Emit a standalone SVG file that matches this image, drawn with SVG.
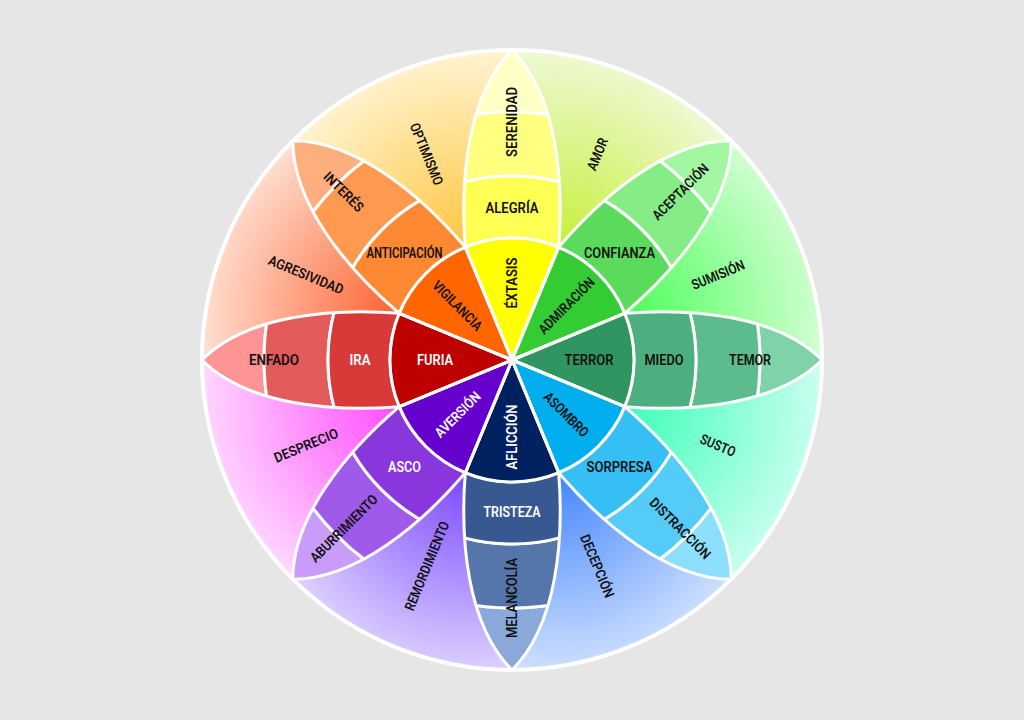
<svg xmlns="http://www.w3.org/2000/svg" xmlns:xlink="http://www.w3.org/1999/xlink" width="1024" height="720" viewBox="0 0 1024 720">
<defs>
<style>
text { font-family: Roboto, "DejaVu Sans", "Liberation Sans", sans-serif; font-size: 14px; font-weight: 600; text-anchor: middle; dominant-baseline: central; fill: #111; }
text.w { fill: #fff; }
.seg { stroke: #fff; stroke-width: 3; stroke-linejoin: round; }
.outline { fill: none; stroke: #fff; stroke-width: 3; stroke-linejoin: round; }
.dyad { stroke: none; }
</style>
<clipPath id="pc"><path d="M0,-310 C45,-265 52,-180 46.7,-112.7 L0,0 L-46.7,-112.7 C-52,-180 -45,-265 0,-310 Z"/></clipPath>
<path id="wedge" d="M0,0 L46.7,-112.7 A122,122 0 0 0 -46.7,-112.7 Z"/>
<path id="r2" d="M-61,-105.65 A122,122 0 0 1 61,-105.65 L92,-159.35 A184,184 0 0 0 -92,-159.35 Z"/>
<path id="r3" d="M-92,-159.35 A184,184 0 0 1 92,-159.35 L124,-214.77 A248,248 0 0 0 -124,-214.77 Z"/>
<path id="tip" d="M-124,-214.77 A248,248 0 0 1 124,-214.77 L160,-277.1 A320,320 0 0 0 -160,-277.1 Z"/>
<path id="petal" d="M0,-310 C45,-265 52,-180 46.7,-112.7 L0,0 L-46.7,-112.7 C-52,-180 -45,-265 0,-310 Z"/>
<radialGradient id="gAmor" gradientUnits="userSpaceOnUse" cx="558.7" cy="247.3" r="200"><stop offset="0" stop-color="#c6ef3a"/><stop offset="1" stop-color="#eff9d6"/></radialGradient>
<radialGradient id="gSumision" gradientUnits="userSpaceOnUse" cx="624.7" cy="313.3" r="200"><stop offset="0" stop-color="#4dff5a"/><stop offset="1" stop-color="#d2ffd2"/></radialGradient>
<radialGradient id="gSusto" gradientUnits="userSpaceOnUse" cx="624.7" cy="406.7" r="200"><stop offset="0" stop-color="#3dffb8"/><stop offset="1" stop-color="#cbfff0"/></radialGradient>
<radialGradient id="gDecepcion" gradientUnits="userSpaceOnUse" cx="558.7" cy="472.7" r="200"><stop offset="0" stop-color="#4285ff"/><stop offset="1" stop-color="#cfe0ff"/></radialGradient>
<radialGradient id="gRemordimiento" gradientUnits="userSpaceOnUse" cx="465.3" cy="472.7" r="200"><stop offset="0" stop-color="#7a48ff"/><stop offset="1" stop-color="#ddd0ff"/></radialGradient>
<radialGradient id="gDesprecio" gradientUnits="userSpaceOnUse" cx="399.3" cy="406.7" r="200"><stop offset="0" stop-color="#ff4dff"/><stop offset="1" stop-color="#ffd8ff"/></radialGradient>
<radialGradient id="gAgresividad" gradientUnits="userSpaceOnUse" cx="399.3" cy="313.3" r="200"><stop offset="0" stop-color="#ff6230"/><stop offset="1" stop-color="#ffe0d2"/></radialGradient>
<radialGradient id="gOptimismo" gradientUnits="userSpaceOnUse" cx="465.3" cy="247.3" r="200"><stop offset="0" stop-color="#ffc640"/><stop offset="1" stop-color="#fff4d2"/></radialGradient>
</defs>

<rect x="0" y="0" width="1024" height="720" fill="#e6e6e6"/>

<g id="dyads">
  <g id="amor"><path class="dyad" fill="url(#gAmor)" d="M512,360 L512,50 A310,310 0 0 1 731.2,140.8 Z"/><text transform="translate(597.3 154) rotate(-67.5)" textLength="34" lengthAdjust="spacingAndGlyphs">AMOR</text></g>
  <g id="sumision"><path class="dyad" fill="url(#gSumision)" d="M512,360 L731.2,140.8 A310,310 0 0 1 822,360 Z"/><text transform="translate(718 274.7) rotate(-22.5)" textLength="56" lengthAdjust="spacingAndGlyphs">SUMISIÓN</text></g>
  <g id="susto"><path class="dyad" fill="url(#gSusto)" d="M512,360 L822,360 A310,310 0 0 1 731.2,579.2 Z"/><text transform="translate(718 445.3) rotate(22.5)" textLength="37" lengthAdjust="spacingAndGlyphs">SUSTO</text></g>
  <g id="decepcion"><path class="dyad" fill="url(#gDecepcion)" d="M512,360 L731.2,579.2 A310,310 0 0 1 512,670 Z"/><text transform="translate(597.3 566) rotate(67.5)" textLength="67" lengthAdjust="spacingAndGlyphs">DECEPCIÓN</text></g>
  <g id="remordimiento"><path class="dyad" fill="url(#gRemordimiento)" d="M512,360 L512,670 A310,310 0 0 1 292.8,579.2 Z"/><text transform="translate(426.7 566) rotate(-67.5)" textLength="95" lengthAdjust="spacingAndGlyphs">REMORDIMIENTO</text></g>
  <g id="desprecio"><path class="dyad" fill="url(#gDesprecio)" d="M512,360 L292.8,579.2 A310,310 0 0 1 202,360 Z"/><text transform="translate(306 445.3) rotate(-22.5)" textLength="68" lengthAdjust="spacingAndGlyphs">DESPRECIO</text></g>
  <g id="agresividad"><path class="dyad" fill="url(#gAgresividad)" d="M512,360 L202,360 A310,310 0 0 1 292.8,140.8 Z"/><text transform="translate(306 274.7) rotate(22.5)" textLength="80" lengthAdjust="spacingAndGlyphs">AGRESIVIDAD</text></g>
  <g id="optimismo"><path class="dyad" fill="url(#gOptimismo)" d="M512,360 L292.8,140.8 A310,310 0 0 1 512,50 Z"/><text transform="translate(426.7 154) rotate(67.5)" textLength="66" lengthAdjust="spacingAndGlyphs">OPTIMISMO</text></g>
</g>

<g id="petal-alegria" transform="translate(512 360) rotate(0)">
  <g id="serenidad"><use href="#tip" class="seg" fill="#ffffc6" clip-path="url(#pc)"/><use href="#r3" class="seg" fill="#ffff80" clip-path="url(#pc)"/><text transform="translate(0 -238) rotate(-90)" textLength="70" lengthAdjust="spacingAndGlyphs">SERENIDAD</text></g>
  <g id="alegria"><use href="#r2" class="seg" fill="#ffff54" clip-path="url(#pc)"/><text transform="translate(0 -152) rotate(0)" textLength="53" lengthAdjust="spacingAndGlyphs">ALEGRÍA</text></g>
  <g id="extasis"><use href="#wedge" class="seg" fill="#ffff00"/><text transform="translate(0 -77) rotate(-90)" textLength="51" lengthAdjust="spacingAndGlyphs">ÉXTASIS</text></g>
  <use href="#petal" class="outline"/>
</g>

<g id="petal-confianza" transform="translate(512 360) rotate(45)">
  <g id="aceptacion"><use href="#tip" class="seg" fill="#a3f7a3" clip-path="url(#pc)"/><use href="#r3" class="seg" fill="#86ec86" clip-path="url(#pc)"/><text transform="translate(0 -238) rotate(-90)" textLength="73" lengthAdjust="spacingAndGlyphs">ACEPTACIÓN</text></g>
  <g id="confianza"><use href="#r2" class="seg" fill="#5bdb5b" clip-path="url(#pc)"/><text transform="translate(0 -152) rotate(-45)" textLength="71" lengthAdjust="spacingAndGlyphs">CONFIANZA</text></g>
  <g id="admiracion"><use href="#wedge" class="seg" fill="#33cc33"/><text transform="translate(0 -77) rotate(-90)" textLength="73" lengthAdjust="spacingAndGlyphs">ADMIRACIÓN</text></g>
  <use href="#petal" class="outline"/>
</g>

<g id="petal-miedo" transform="translate(512 360) rotate(90)">
  <g id="temor"><use href="#tip" class="seg" fill="#7fd3a8" clip-path="url(#pc)"/><use href="#r3" class="seg" fill="#5dbc8d" clip-path="url(#pc)"/><text transform="translate(0 -238) rotate(-90)" textLength="42" lengthAdjust="spacingAndGlyphs">TEMOR</text></g>
  <g id="miedo"><use href="#r2" class="seg" fill="#4daf80" clip-path="url(#pc)"/><text transform="translate(0 -152) rotate(-90)" textLength="39" lengthAdjust="spacingAndGlyphs">MIEDO</text></g>
  <g id="terror"><use href="#wedge" class="seg" fill="#319562"/><text transform="translate(0 -77) rotate(-90)" textLength="49" lengthAdjust="spacingAndGlyphs">TERROR</text></g>
  <use href="#petal" class="outline"/>
</g>

<g id="petal-sorpresa" transform="translate(512 360) rotate(135)">
  <g id="distraccion"><use href="#tip" class="seg" fill="#8ddffe" clip-path="url(#pc)"/><use href="#r3" class="seg" fill="#55ccf8" clip-path="url(#pc)"/><text transform="translate(0 -238) rotate(-90)" textLength="80" lengthAdjust="spacingAndGlyphs">DISTRACCIÓN</text></g>
  <g id="sorpresa"><use href="#r2" class="seg" fill="#36bff5" clip-path="url(#pc)"/><text transform="translate(0 -152) rotate(-135)" textLength="66" lengthAdjust="spacingAndGlyphs">SORPRESA</text></g>
  <g id="asombro"><use href="#wedge" class="seg" fill="#00aeee"/><text transform="translate(0 -77) rotate(-90)" textLength="57" lengthAdjust="spacingAndGlyphs">ASOMBRO</text></g>
  <use href="#petal" class="outline"/>
</g>

<g id="petal-tristeza" transform="translate(512 360) rotate(180)">
  <g id="melancolia"><use href="#tip" class="seg" fill="#8aa8da" clip-path="url(#pc)"/><use href="#r3" class="seg" fill="#5576ab" clip-path="url(#pc)"/><text transform="translate(0 -238) rotate(90)" textLength="80" lengthAdjust="spacingAndGlyphs">MELANCOLÍA</text></g>
  <g id="tristeza"><use href="#r2" class="seg" fill="#385892" clip-path="url(#pc)"/><text class="w" transform="translate(0 -152) rotate(-180)" textLength="57" lengthAdjust="spacingAndGlyphs">TRISTEZA</text></g>
  <g id="afliccion"><use href="#wedge" class="seg" fill="#00215f"/><text class="w" transform="translate(0 -77) rotate(90)" textLength="65" lengthAdjust="spacingAndGlyphs">AFLICCIÓN</text></g>
  <use href="#petal" class="outline"/>
</g>

<g id="petal-aversion" transform="translate(512 360) rotate(225)">
  <g id="aburrimiento"><use href="#tip" class="seg" fill="#c99cfb" clip-path="url(#pc)"/><use href="#r3" class="seg" fill="#a05ae9" clip-path="url(#pc)"/><text transform="translate(0 -238) rotate(90)" textLength="89" lengthAdjust="spacingAndGlyphs">ABURRIMIENTO</text></g>
  <g id="asco"><use href="#r2" class="seg" fill="#8936dd" clip-path="url(#pc)"/><text class="w" transform="translate(0 -152) rotate(-225)" textLength="33" lengthAdjust="spacingAndGlyphs">ASCO</text></g>
  <g id="aversion"><use href="#wedge" class="seg" fill="#6600cc"/><text class="w" transform="translate(0 -77) rotate(90)" textLength="58" lengthAdjust="spacingAndGlyphs">AVERSIÓN</text></g>
  <use href="#petal" class="outline"/>
</g>

<g id="petal-ira" transform="translate(512 360) rotate(270)">
  <g id="enfado"><use href="#tip" class="seg" fill="#ff9494" clip-path="url(#pc)"/><use href="#r3" class="seg" fill="#e35a5a" clip-path="url(#pc)"/><text transform="translate(0 -238) rotate(90)" textLength="50" lengthAdjust="spacingAndGlyphs">ENFADO</text></g>
  <g id="ira"><use href="#r2" class="seg" fill="#d83a3a" clip-path="url(#pc)"/><text class="w" transform="translate(0 -152) rotate(-270)" textLength="21" lengthAdjust="spacingAndGlyphs">IRA</text></g>
  <g id="furia"><use href="#wedge" class="seg" fill="#bd0000"/><text class="w" transform="translate(0 -77) rotate(90)" textLength="36" lengthAdjust="spacingAndGlyphs">FURIA</text></g>
  <use href="#petal" class="outline"/>
</g>

<g id="petal-anticipacion" transform="translate(512 360) rotate(315)">
  <g id="interes"><use href="#tip" class="seg" fill="#ffae7e" clip-path="url(#pc)"/><use href="#r3" class="seg" fill="#ff9a50" clip-path="url(#pc)"/><text transform="translate(0 -238) rotate(90)" textLength="50" lengthAdjust="spacingAndGlyphs">INTERÉS</text></g>
  <g id="anticipacion"><use href="#r2" class="seg" fill="#ff8833" clip-path="url(#pc)"/><text transform="translate(0 -152) rotate(-315)" textLength="76" lengthAdjust="spacingAndGlyphs">ANTICIPACIÓN</text></g>
  <g id="vigilancia"><use href="#wedge" class="seg" fill="#ff6600"/><text transform="translate(0 -77) rotate(90)" textLength="64" lengthAdjust="spacingAndGlyphs">VIGILANCIA</text></g>
  <use href="#petal" class="outline"/>
</g>

<circle id="outer-ring" cx="512" cy="360" r="310" fill="none" stroke="#fff" stroke-width="4"/>
</svg>
